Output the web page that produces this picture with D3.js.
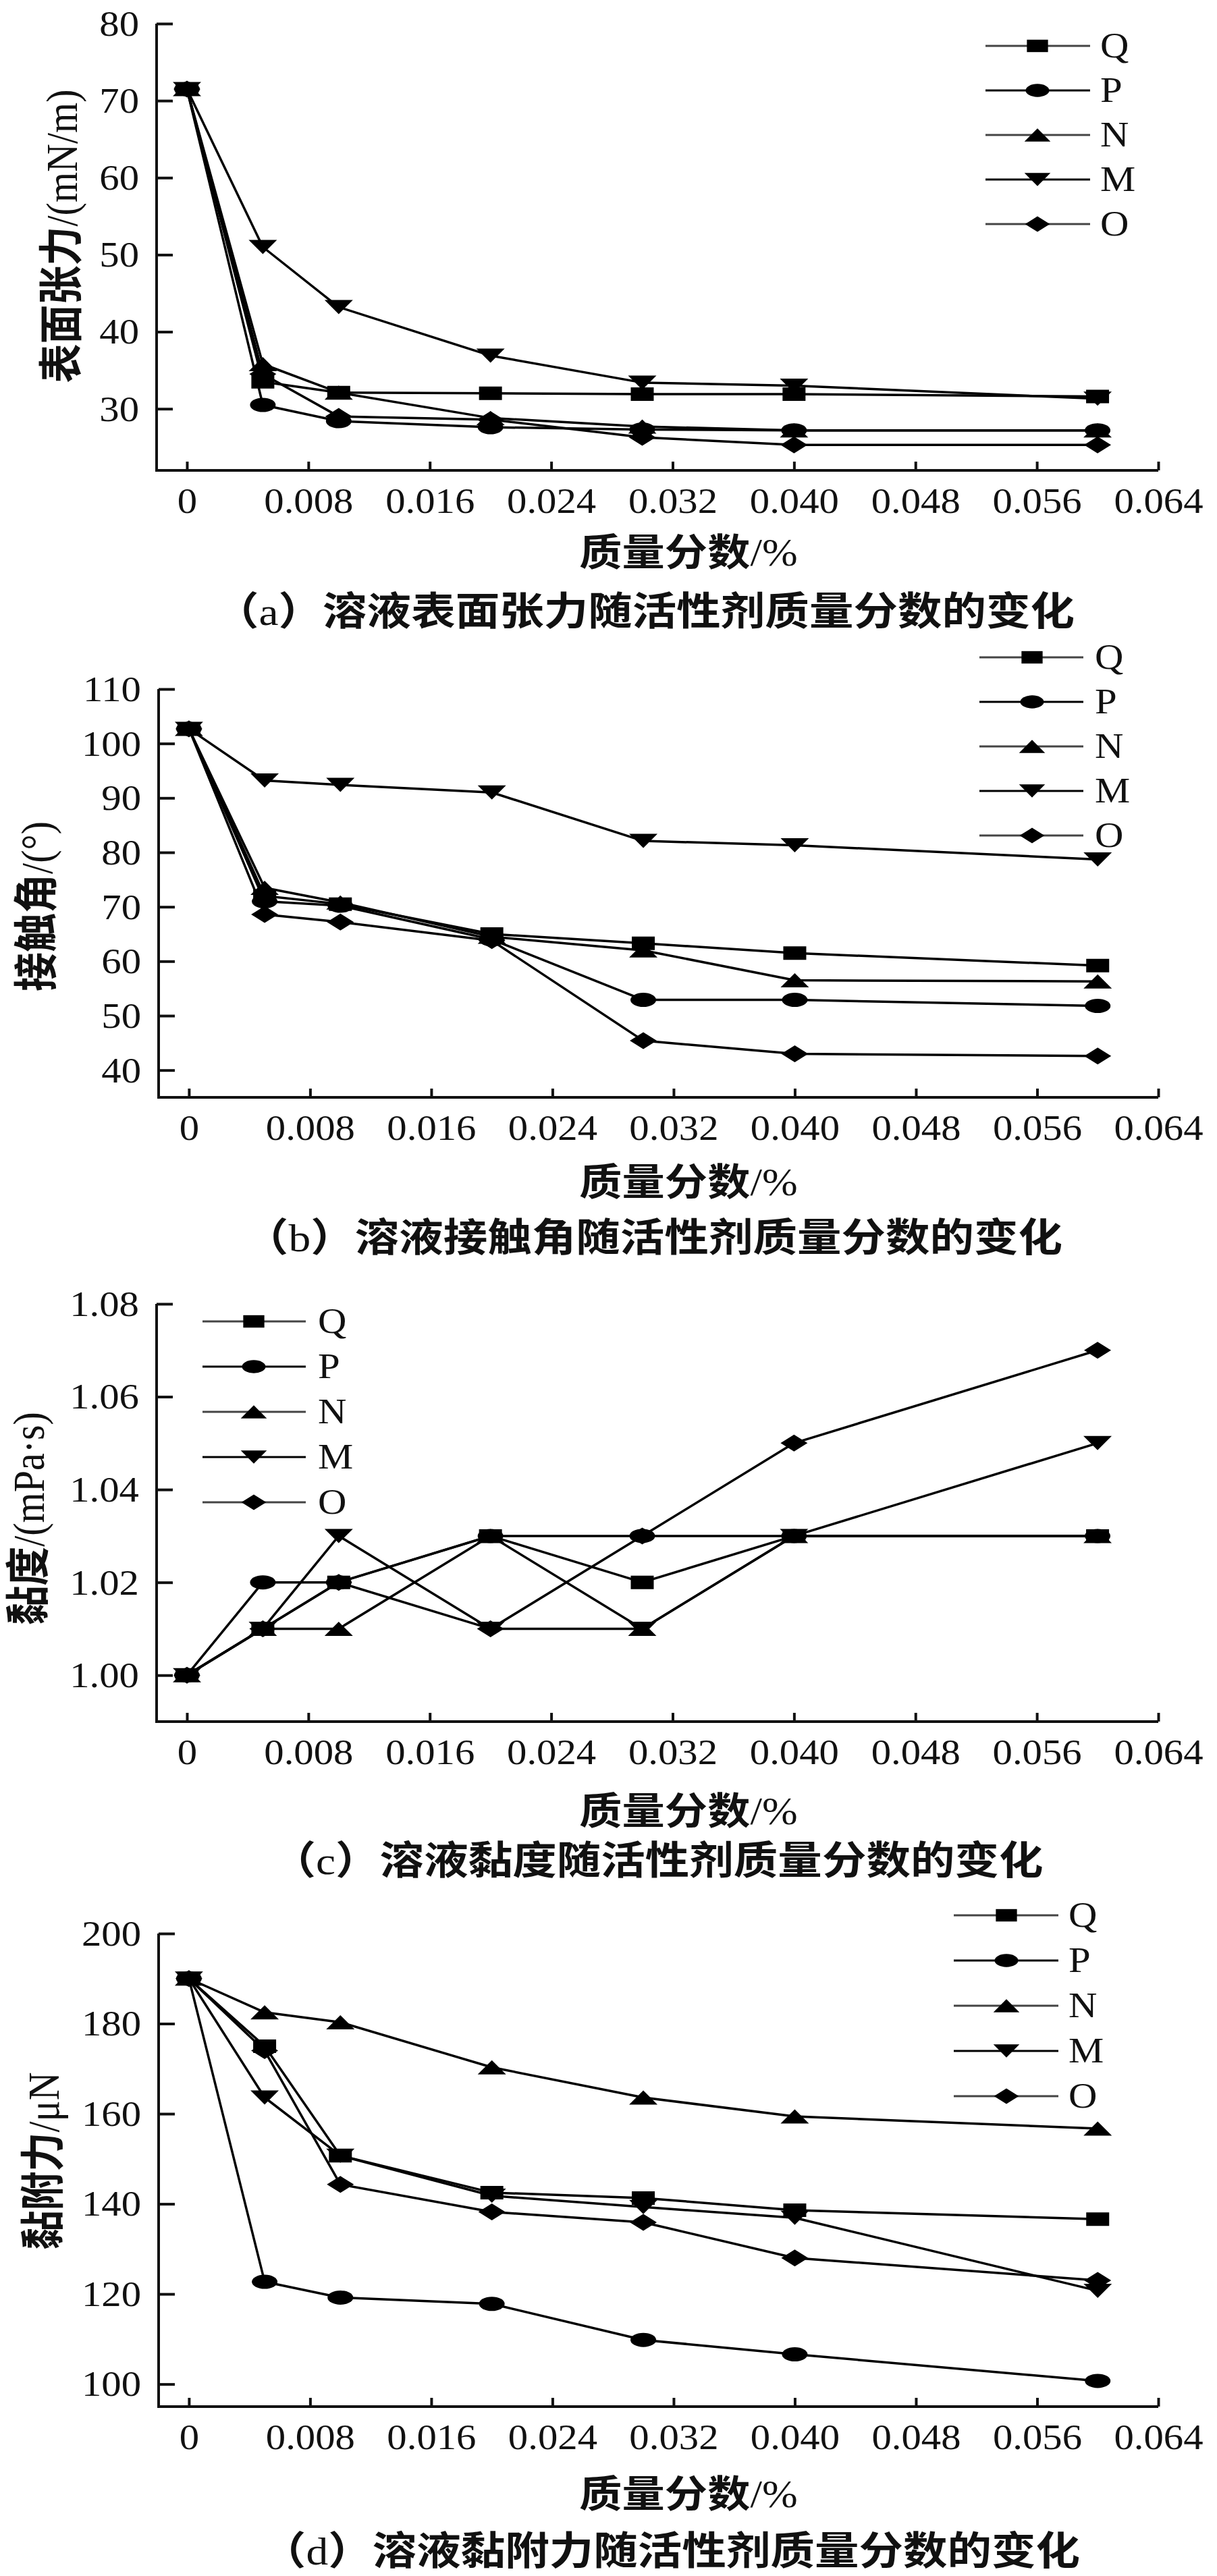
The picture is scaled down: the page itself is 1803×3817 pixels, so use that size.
<!DOCTYPE html>
<html>
<head>
<meta charset="utf-8">
<script src="https://cdn.jsdelivr.net/npm/d3@7"></script>
<style>
  body { margin: 0; background: #fff; }
  svg { display: block; }
</style>
</head>
<body>
<svg id="chart" width="1803" height="3817"></svg>
<script>
// ---- data ----
var xValues = [0, 0.005, 0.01, 0.02, 0.03, 0.04, 0.06];
var seriesNames = ["Q", "P", "N", "M", "O"];
var xTicks = [0, 0.008, 0.016, 0.024, 0.032, 0.040, 0.048, 0.056, 0.064];

// (a) surface tension, mN/m  (rows follow seriesNames)
var tension = [
  [71.5, 33.5, 32.1, 32.0, 31.9, 31.9, 31.6],
  [71.5, 30.5, 28.4, 27.6, 27.3, 27.2, 27.2],
  [71.5, 35.8, 32.1, 28.8, 27.7, 27.2, 27.2],
  [71.5, 51.0, 43.2, 36.9, 33.4, 33.0, 31.3],
  [71.5, 34.5, 29.0, 28.6, 26.3, 25.3, 25.3]
];
var tensionTicks = [30, 40, 50, 60, 70, 80];

// (b) contact angle, degrees
var contactAngle = [
  [102.7, 72.0, 70.5, 65.0, 63.3, 61.5, 59.2],
  [102.7, 71.0, 70.2, 64.0, 52.9, 52.9, 51.8],
  [102.7, 73.5, 70.8, 64.5, 62.0, 56.5, 56.3],
  [102.7, 93.2, 92.4, 91.0, 82.1, 81.3, 78.7],
  [102.7, 68.6, 67.2, 63.8, 45.4, 43.0, 42.6]
];
var contactTicks = [40, 50, 60, 70, 80, 90, 100, 110];

// (c) viscosity, mPa·s
var viscosity = [
  [1.00, 1.01, 1.02, 1.03, 1.02, 1.03, 1.03],
  [1.00, 1.02, 1.02, 1.03, 1.03, 1.03, 1.03],
  [1.00, 1.01, 1.01, 1.03, 1.01, 1.03, 1.03],
  [1.00, 1.01, 1.03, 1.01, 1.01, 1.03, 1.05],
  [1.00, 1.01, 1.02, 1.01, 1.03, 1.05, 1.07]
];
var viscosityTicks = [1.00, 1.02, 1.04, 1.06, 1.08];

// (d) adhesion, μN
var adhesion = [
  [190, 175.0, 150.7, 142.5, 141.3, 138.6, 136.6],
  [190, 122.7, 119.2, 117.8, 109.8, 106.6, 100.7],
  [190, 182.5, 180.3, 170.3, 163.6, 159.4, 156.7],
  [190, 163.6, 150.7, 141.8, 139.3, 136.9, 120.7],
  [190, 174.0, 144.3, 138.2, 135.9, 128.0, 123.0]
];
var adhesionTicks = [100, 120, 140, 160, 180, 200];

// ---- layout ----
var SERIF = "'Liberation Serif', 'Times New Roman', 'Noto Sans CJK SC', serif";
var STRETCH = 1.13;   // the figure is a little wider than tall
var axisRight = 1716;

var panels = [
  { values: tension, ticks: tensionTicks, yDomain: [22, 80], fmt: d3.format("d"),
    yLabel: "表面张力/(mN/m)", title: "（a）溶液表面张力随活性剂质量分数的变化",
    top: 35, bottom: 697, left: 232, yLabX: 92, yLabY: 350, xLabY: 819, titleX: 955, titleY: 906,
    legend: { x1: 1460, x2: 1615, mx: 1537, tx: 1630, y0: 68, dy: 66 } },
  { values: contactAngle, ticks: contactTicks, yDomain: [35, 110], fmt: d3.format("d"),
    yLabel: "接触角/(°)", title: "（b）溶液接触角随活性剂质量分数的变化",
    top: 1021, bottom: 1626, left: 235, yLabX: 55, yLabY: 1343, xLabY: 1752, titleX: 968, titleY: 1834,
    legend: { x1: 1451, x2: 1605, mx: 1529, tx: 1622, y0: 974, dy: 66 } },
  { values: viscosity, ticks: viscosityTicks, yDomain: [0.99, 1.08], fmt: d3.format(".2f"),
    yLabel: "黏度/(mPa·s)", title: "（c）溶液黏度随活性剂质量分数的变化",
    top: 1932, bottom: 2551, left: 232, yLabX: 43, yLabY: 2250, xLabY: 2684, titleX: 974, titleY: 2757,
    legend: { x1: 300, x2: 453, mx: 376, tx: 471, y0: 1958, dy: 67 } },
  { values: adhesion, ticks: adhesionTicks, yDomain: [95, 200], fmt: d3.format("d"),
    yLabel: "黏附力/μN", title: "（d）溶液黏附力随活性剂质量分数的变化",
    top: 2865, bottom: 3566, left: 235, yLabX: 65, yLabY: 3202, xLabY: 3696, titleX: 994, titleY: 3780,
    legend: { x1: 1413, x2: 1568, mx: 1491, tx: 1583, y0: 2838, dy: 67 } }
];

// marker shapes, unit sized, stretched with a transform
var triUp = { draw: function(ctx, size) {
  var h = Math.sqrt(size) / 2;
  ctx.moveTo(0, -h); ctx.lineTo(h, h); ctx.lineTo(-h, h); ctx.closePath();
}};
var triDown = { draw: function(ctx, size) {
  var h = Math.sqrt(size) / 2;
  ctx.moveTo(0, h); ctx.lineTo(h, -h); ctx.lineTo(-h, -h); ctx.closePath();
}};
var diamond = { draw: function(ctx, size) {
  var h = Math.sqrt(size) / 2;
  ctx.moveTo(0, -h); ctx.lineTo(h, 0); ctx.lineTo(0, h); ctx.lineTo(-h, 0); ctx.closePath();
}};
var markers = {
  Q: { type: d3.symbolSquare, size: 1, sx: 34, sy: 20 },
  P: { type: d3.symbolCircle, size: Math.PI / 4, sx: 38, sy: 21 },
  N: { type: triUp, size: 1, sx: 42, sy: 21 },
  M: { type: triDown, size: 1, sx: 42, sy: 21 },
  O: { type: diamond, size: 1, sx: 40, sy: 25 }
};
var legendStroke = { Q: "#444", P: "#000", N: "#444", M: "#000", O: "#444" };

var svg = d3.select("#chart");
svg.append("rect").attr("width", 1803).attr("height", 3817).attr("fill", "#fff");

function drawMarker(g, name, x, y, k) {
  var m = markers[name];
  k = k || 1;
  g.append("path")
    .attr("d", d3.symbol().type(m.type).size(m.size)())
    .attr("transform", "translate(" + x + "," + y + ") scale(" + (m.sx * k) + "," + (m.sy * k) + ")")
    .attr("fill", "#000");
}

// CJK runs are set heavier, like the Song bold of the figure; latin stays regular
var cjkRun = /([\u3000-\u303f\u4e00-\u9fff\uff00-\uffef]+)/;

function label(g, txt, x, y, size, anchor, rotate, heavyCjk) {
  var t = g.append("text")
    .attr("x", 0).attr("y", 0)
    .attr("font-family", SERIF)
    .attr("font-size", size)
    .attr("fill", "#111")
    .attr("text-anchor", anchor)
    .attr("dominant-baseline", "central");
  if (heavyCjk) {
    txt.split(cjkRun).filter(function(s) { return s.length; }).forEach(function(s) {
      t.append("tspan")
        .attr("font-weight", cjkRun.test(s) ? "bold" : "normal")
        .text(s);
    });
  } else {
    t.text(txt);
  }
  if (rotate) t.attr("transform", "translate(" + x + "," + y + ") rotate(-90) scale(1," + STRETCH + ")");
  else t.attr("transform", "translate(" + x + "," + y + ") scale(" + STRETCH + ",1)");
  return t;
}

panels.forEach(function(p) {
  var g = svg.append("g");

  var x = d3.scaleLinear().domain([-0.002, 0.064]).range([p.left, axisRight]);
  var y = d3.scaleLinear().domain(p.yDomain).range([p.bottom, p.top]);

  // axes, ticks pointing inward
  var yAxis = g.append("g")
    .attr("transform", "translate(" + p.left + ",0)")
    .call(d3.axisLeft(y).tickValues(p.ticks).tickFormat(p.fmt)
      .tickSizeInner(-24).tickSizeOuter(0).tickPadding(26));
  var xAxis = g.append("g")
    .attr("transform", "translate(0," + p.bottom + ")")
    .call(d3.axisBottom(x).tickValues(xTicks)
      .tickFormat(function(d) { return d === 0 ? "0" : d3.format(".3f")(d); })
      .tickSizeInner(-13).tickSizeOuter(0));

  [yAxis, xAxis].forEach(function(a) {
    a.select(".domain").attr("stroke", "#111").attr("stroke-width", 4);
    a.selectAll(".tick line").attr("stroke", "#111").attr("stroke-width", 4);
  });
  yAxis.select(".domain").attr("d", "M0," + (p.bottom + 2) + "V" + p.top);
  xAxis.select(".domain").attr("d", "M" + (p.left - 2) + ",0H" + axisRight);

  yAxis.selectAll(".tick text")
    .attr("font-family", SERIF).attr("font-size", 52).attr("fill", "#111")
    .attr("x", 0).attr("dy", null)
    .attr("dominant-baseline", "central")
    .attr("transform", "translate(-26,0) scale(" + STRETCH + ",1)");
  xAxis.selectAll(".tick text")
    .attr("font-family", SERIF).attr("font-size", 52).attr("fill", "#111")
    .attr("y", 0).attr("dy", null)
    .attr("dominant-baseline", "central")
    .attr("transform", "translate(0,46) scale(" + STRETCH + ",1)");

  // series
  var line = d3.line()
    .x(function(d, i) { return x(xValues[i]); })
    .y(function(d) { return y(d); });

  p.values.forEach(function(vals, s) {
    g.append("path")
      .attr("d", line(vals))
      .attr("fill", "none")
      .attr("stroke", "#000")
      .attr("stroke-width", 3.5)
      .attr("stroke-linejoin", "round");
  });
  p.values.forEach(function(vals, s) {
    vals.forEach(function(v, i) {
      drawMarker(g, seriesNames[s], x(xValues[i]), y(v));
    });
  });

  // legend
  var L = p.legend;
  seriesNames.forEach(function(name, i) {
    var ly = L.y0 + i * L.dy;
    g.append("line")
      .attr("x1", L.x1).attr("x2", L.x2).attr("y1", ly).attr("y2", ly)
      .attr("stroke", legendStroke[name]).attr("stroke-width", 3);
    drawMarker(g, name, L.mx, ly, 0.92);
    label(g, name, L.tx, ly, 52, "start");
  });

  // titles
  label(g, p.yLabel, p.yLabX, p.yLabY, 58, "middle", true, true);
  label(g, "质量分数/%", 1020, p.xLabY, 56, "middle", false, true);
  label(g, p.title, p.titleX, p.titleY, 58, "middle", false, true);
});
</script>
</body>
</html>
